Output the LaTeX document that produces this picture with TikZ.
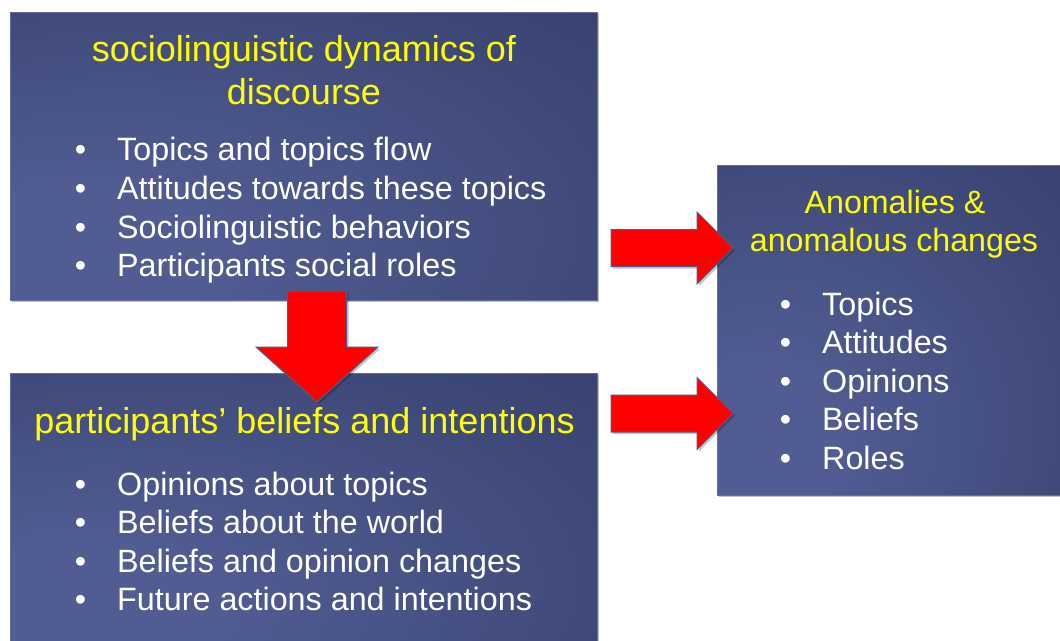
\documentclass[tikz,border=0pt]{standalone}
\usepackage{fontspec}
\setmainfont{Liberation Sans}
\usetikzlibrary{calc,shadows}

\definecolor{panelL}{RGB}{80,92,146}
\definecolor{panelD}{RGB}{40,47,86}
\definecolor{panelEdge}{RGB}{98,110,158}
\definecolor{arrowEdge}{RGB}{78,94,140}
\definecolor{headYellow}{RGB}{255,255,0}

% soft light spot towards the lower left of each panel
\pgfdeclareradialshading{panel}{\pgfpoint{-22bp}{-20bp}}{%
  color(0bp)=(panelL); color(12bp)=(panelL); color(78bp)=(panelD); color(100bp)=(panelD)}

\tikzset{
  panelbox/.style={draw=panelEdge, line width=0.8pt, shading=panel, inner sep=0pt,
    anchor=north west,
    drop shadow={shadow xshift=2pt, shadow yshift=-2pt, opacity=0.25, fill=black}},
  heading/.style={anchor=base, text=headYellow, inner sep=0pt},
  listitem/.style={anchor=base west, text=white, inner sep=0pt,
    font=\fontsize{32.3}{38}\selectfont},
  redarrow/.style={fill=red, draw=arrowEdge, line width=1pt, line join=miter,
    drop shadow={shadow xshift=2pt, shadow yshift=-2pt, opacity=0.22, fill=black}},
}

\newcommand\itm{\llap{\textbullet\hspace{31pt}}}

% block arrow: from, to, shaft half width, head half width, head length
\newcommand\blockarrow[5]{%
  \coordinate (bah) at ($(#2)!#5!(#1)$);
  \draw[redarrow] ($(#1)!#3!90:(#2)$) -- ($(bah)!#3!90:(#2)$) -- ($(bah)!#4!90:(#2)$)
    -- (#2) -- ($(bah)!#4!-90:(#2)$) -- ($(bah)!#3!-90:(#2)$) -- ($(#1)!#3!-90:(#2)$) -- cycle;
}

\begin{document}
\begin{tikzpicture}[x=1pt,y=-1pt]
\useasboundingbox (0,0) rectangle (1060,640);
\fill[white] (0,0) rectangle (1060,640);

% panels
\node[panelbox, minimum width=587pt, minimum height=288pt] (b1) at (10,12) {};
\node[panelbox, minimum width=587pt, minimum height=275pt] (b2) at (10,373) {};
\node[panelbox, minimum width=350pt, minimum height=330pt] (b3) at (717,165) {};

% upper left panel
\node[heading, font=\fontsize{36}{43}\selectfont] (t1a) at (304,61.7) {sociolinguistic dynamics of};
\node[heading, font=\fontsize{36}{43}\selectfont] (t1b) at (304,104) {discourse};
\foreach \txt [count=\i] in {Topics and topics flow, Attitudes towards these topics,
    Sociolinguistic behaviors, Participants social roles}
  \node[listitem] (b1i\i) at (117,{160.7+38.7*(\i-1)}) {\itm\txt};

% lower left panel
\node[heading, font=\fontsize{36}{43}\selectfont] (t2) at (304.5,433.3) {participants’ beliefs and intentions};
\foreach \txt [count=\i] in {Opinions about topics, Beliefs about the world,
    Beliefs and opinion changes, Future actions and intentions}
  \node[listitem] (b2i\i) at (117,{495+38.6*(\i-1)}) {\itm\txt};

% right panel
\node[heading, font=\fontsize{32.2}{38}\selectfont] (t3a) at (895,213.3) {Anomalies \&};
\node[heading, font=\fontsize{32.2}{38}\selectfont] (t3b) at (894,251) {anomalous changes};
\foreach \txt [count=\i] in {Topics, Attitudes, Opinions, Beliefs, Roles}
  \node[listitem] (b3i\i) at (822,{315+38.6*(\i-1)}) {\itm\txt};

% block arrows
\coordinate (dA) at (317,291);
\coordinate (dB) at (317,402);
\coordinate (r1A) at (611,248);
\coordinate (r1B) at (733,248);
\coordinate (r2A) at (611,413.5);
\coordinate (r2B) at (733,413.5);
\blockarrow{dA}{dB}{29.5pt}{61pt}{55pt}
\blockarrow{r1A}{r1B}{18.5pt}{36pt}{36pt}
\blockarrow{r2A}{r2B}{18.5pt}{36pt}{36pt}
\end{tikzpicture}
\end{document}
